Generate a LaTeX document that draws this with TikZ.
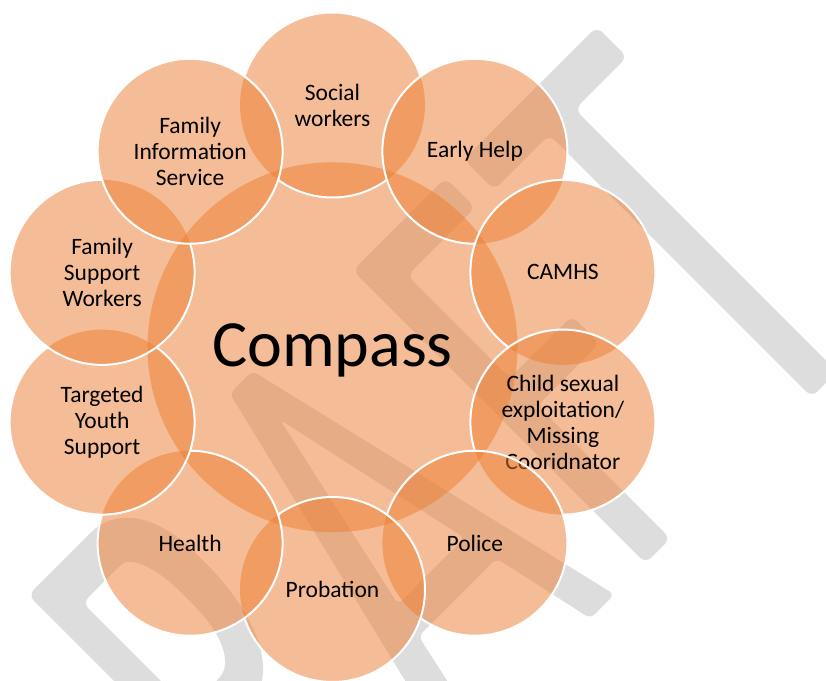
\documentclass[tikz,border=0pt]{standalone}
\usepackage{fontspec}
\setmainfont{Carlito}
\definecolor{accent}{HTML}{ED7D31}
\definecolor{wmgrey}{RGB}{221,221,221}
\newcommand{\petalrim}[2]{% rim of circle #1, hidden where circle #2 lies on top
  \begin{scope}[even odd rule]
    \clip (-10,-10) rectangle (836,690) (c#2) circle[radius=92.5];
    \draw[rim] (c#1) circle[radius=92.5];
  \end{scope}}
\begin{document}
\begin{tikzpicture}[x=1pt,y=1pt,
  petal/.style={fill=accent, fill opacity=0.5},
  rim/.style={draw=white, line width=2pt},
  lbl/.style={align=center, font=\fontsize{23.5}{26}\selectfont, text=black, inner sep=0pt},
  wmark/.style={fill=wmgrey, rounded corners=8pt}]
\useasboundingbox (0,0) rectangle (826,680);
\fill[white] (0,0) rectangle (826,680);

% watermark letters, running diagonally up to the right
\begin{scope}[rotate=45]
  % R
  \fill[wmark, even odd rule]
    (80,-374) -- (80,40) -- (160,40) .. controls (205,40) and (228,5) .. (228,-55)
    .. controls (228,-120) and (212,-168) .. (178,-190) -- (250,-374) -- (212,-374)
    -- (146,-196) -- (113,-196) -- (113,-374) -- cycle
    (113,-4) -- (158,-4) .. controls (180,-4) and (190,-30) .. (190,-75)
    .. controls (190,-125) and (176,-152) .. (150,-154) -- (113,-154) -- cycle;
  % A
  \fill[wmark, even odd rule, rounded corners=6pt]
    (265,-374) -- (365,40) -- (397,40) -- (495,-374) -- (461,-374) -- (437,-265)
    -- (327,-265) -- (303,-374) -- cycle
    (382,-14) -- (429,-228) -- (335,-228) -- cycle;
  % F
  \fill[wmark] (539,40) -- (670,40) -- (670,-2) -- (574,-2) -- (574,-147) -- (662,-147)
    -- (662,-186) -- (574,-186) -- (574,-374) -- (539,-374) -- cycle;
  % T
  \fill[wmark] (696,40) -- (884,40) -- (884,-3) -- (810,-3) -- (810,-374) -- (774,-374)
    -- (774,-3) -- (696,-3) -- cycle;
\end{scope}

% centres
\coordinate (hub) at (332.5,332.75);
\foreach \n/\a in {1/90,2/54,3/18,4/-18,5/-54,6/-90,7/-126,8/-162,9/162,10/126}
  \coordinate (c\n) at ([shift={(\a:242.25)}]hub);

% central circle
\fill[petal] (hub) circle[radius=185];
\node[font=\fontsize{66}{70}\selectfont, anchor=base, inner sep=0pt] (compass) at (332.5,313.3) {Compass};

% surrounding circles, each drawn over the previous one
\fill[petal] (c1) circle[radius=92.5];
\node[lbl] (social) at (c1) {Social\\workers};
\begin{scope}[even odd rule]
  \clip (-10,-10) rectangle (836,690) (c2) circle[radius=92.5];
  \clip (-10,-10) rectangle (836,690) (c10) circle[radius=92.5];
  \draw[rim] (c1) circle[radius=92.5];
\end{scope}

\fill[petal] (c2) circle[radius=92.5];
\node[lbl] (early) at (c2) {Early Help};
\petalrim{2}{3}

\fill[petal] (c3) circle[radius=92.5];
\node[lbl] (camhs) at (c3) {CAMHS};
\petalrim{3}{4}

\fill[petal] (c4) circle[radius=92.5];
\node[lbl] (cse) at (c4) {Child sexual\\exploitation/\\Missing\\Cooridnator};
\petalrim{4}{5}

\fill[petal] (c5) circle[radius=92.5];
\node[lbl] (police) at (c5) {Police};
\petalrim{5}{6}

\fill[petal] (c6) circle[radius=92.5];
\node[lbl] (probation) at (c6) {Probation};
\petalrim{6}{7}

\fill[petal] (c7) circle[radius=92.5];
\node[lbl] (health) at (c7) {Health};
\petalrim{7}{8}

\fill[petal] (c8) circle[radius=92.5];
\node[lbl] (youth) at (c8) {Targeted\\Youth\\Support};
\petalrim{8}{9}

\fill[petal] (c9) circle[radius=92.5];
\node[lbl] (support) at (c9) {Family\\Support\\Workers};
\petalrim{9}{10}

\fill[petal] (c10) circle[radius=92.5];
\node[lbl] (info) at (c10) {Family\\Information\\Service};
\draw[rim] (c10) circle[radius=92.5];
\end{tikzpicture}
\end{document}
